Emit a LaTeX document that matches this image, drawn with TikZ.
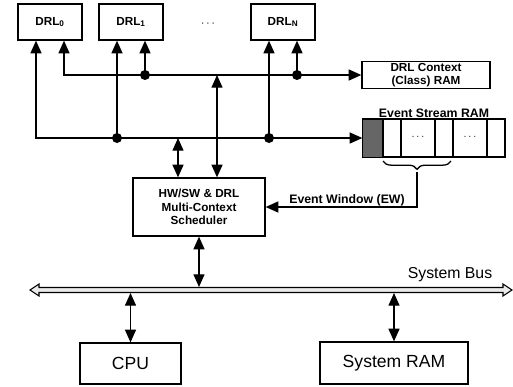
\documentclass[tikz,border=0pt]{standalone}
\usepackage{fontspec}
\setmainfont{Liberation Sans}
\usetikzlibrary{arrows.meta,calc,decorations.pathreplacing}

\begin{document}
\begin{tikzpicture}[x=0.03cm,y=-0.03cm,
  box/.style={draw,line width=1.1pt,inner sep=1pt,align=center,font=\bfseries\fontsize{10}{11.5}\selectfont},
  lbl/.style={font=\bfseries\fontsize{10.5}{12}\selectfont},
  wire/.style={line width=1.1pt,-{Triangle[length=3.8mm,width=3.3mm]}},
  wire2/.style={line width=1.1pt,{Triangle[length=3.8mm,width=3.3mm]}-{Triangle[length=3.8mm,width=3.3mm]}},
  jdot/.style={circle,fill,inner sep=0pt,minimum size=3mm}]
\useasboundingbox (0,0) rectangle (513,386);
% processing units
\node[box,minimum width=1.92cm,minimum height=1.08cm] (drl0) at (50,22) {DRL$_{\mathbf{0}}$};
\node[box,minimum width=1.92cm,minimum height=1.08cm] (drl1) at (131,22) {DRL$_{\mathbf{1}}$};
\node[box,minimum width=1.92cm,minimum height=1.08cm] (drln) at (283,22) {DRL$_{\mathbf{N}}$};
\node (ldots) at (208,24) {$\cdots$};
% memories and scheduler
\node[box,minimum width=3.84cm,minimum height=0.8cm] (ctxram) at (426,75) {DRL Context\\(Class) RAM};
\node[draw,line width=1.1pt,minimum width=4.26cm,minimum height=1.11cm,inner sep=0pt] (esram) at (434,138) {};
\node[lbl] (esrlbl) at (434,113) {Event Stream RAM};
\node[box,minimum width=3.96cm,minimum height=1.74cm] (sched) at (199,207) {HW/SW \& DRL\\Multi-Context\\Scheduler};
\node[draw,line width=1.1pt,minimum width=3.03cm,minimum height=1.23cm,font=\fontsize{15}{18}\selectfont] (cpu) at (130.5,363.5) {CPU};
\node[draw,line width=1.1pt,minimum width=4.44cm,minimum height=1.26cm,font=\fontsize{15}{18}\selectfont] (sysram) at (394,363) {System RAM};
% event stream cells
\fill[black!60] (esram.north west) rectangle (383,156.5);
\draw[line width=1.1pt] (383,119.5) -- (383,156.5);
\draw[line width=1.1pt] (401,119.5) -- (401,156.5);
\draw[line width=1.1pt] (435,119.5) -- (435,156.5);
\draw[line width=1.1pt] (453,119.5) -- (453,156.5);
\draw[line width=1.1pt] (487,119.5) -- (487,156.5);
\draw[line width=1.1pt] (esram.north west) rectangle (esram.south east);
\node (cdots1) at (418,137) {\small$\cdots$};
\node (cdots2) at (470,137) {\small$\cdots$};
% junctions
\coordinate (cb1) at (145,75);
\coordinate (cbn) at (297,75);
\coordinate (eb1) at (117,138);
\coordinate (ebn) at (269,138);
\coordinate (ebs) at (178,138);
\coordinate (cbs) at (217,75);
\coordinate (bustop) at (0,287);
\coordinate (busbot) at (0,293);
% context bus
\draw[wire2] ($(drl0.south)+(14,0)$) |- (ctxram.west);
\draw[wire] (cb1) -- (cb1 |- drl1.south);
\draw[wire] (cbn) -- (cbn |- drln.south);
\node[jdot] (d1) at (cb1) {};
\node[jdot] (d2) at (cbn) {};
% event bus
\draw[wire2] ($(drl0.south)+(-14,0)$) |- (esram.west);
\draw[wire] (eb1) -- (eb1 |- drl1.south);
\draw[wire] (ebn) -- (ebn |- drln.south);
\node[jdot] (d3) at (eb1) {};
\node[jdot] (d4) at (ebn) {};
% scheduler links
\draw[wire2] (ebs |- sched.north) -- (ebs);
\draw[wire2] (cbs |- sched.north) -- (cbs);
% event window
\draw[line width=1.1pt,decorate,decoration={brace,mirror,amplitude=2.5mm}] (383,161) -- (451,161);
\coordinate (ewtop) at (417,172);
\draw[wire] (ewtop) |- (sched.east);
\node[lbl,anchor=south] (ewlbl) at (347,210) {Event Window (EW)};
% system bus
\draw[line width=0.9pt,fill=black!8] (30,290) -- (39,284) -- (39,287.5) -- (503,287.5) -- (503,284) -- (512,290) -- (503,296) -- (503,292.5) -- (39,292.5) -- (39,296) -- cycle;
\node[font=\fontsize{13.5}{16}\selectfont] (buslbl) at (450,275) {System Bus};
\draw[wire2] (sched.south) -- (sched.south |- bustop);
\draw[wire2] (cpu.north |- busbot) -- (cpu.north);
\draw[wire2] (sysram.north |- busbot) -- (sysram.north);
\end{tikzpicture}
\end{document}
